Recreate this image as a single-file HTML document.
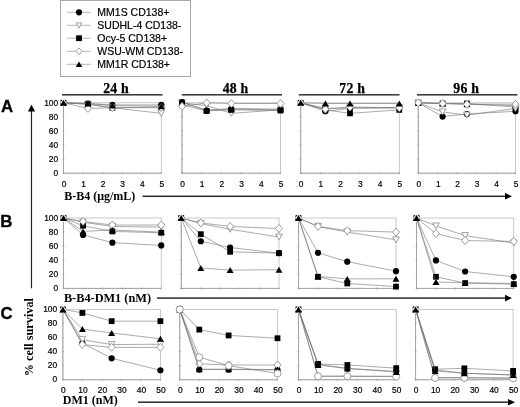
<!DOCTYPE html>
<html lang="en">
<head>
<meta charset="utf-8">
<title>Cell survival figure</title>
<style>
html,body{margin:0;padding:0;background:#fff;}
body{width:520px;height:407px;overflow:hidden;}
svg{display:block;}
</style>
</head>
<body>
<svg width="520" height="407" viewBox="0 0 520 407">
<rect width="520" height="407" fill="#fff"/>
<rect x="60.5" y="0.5" width="130" height="76" fill="#fff" stroke="#a8a8a8" stroke-width="1"/>
<line x1="66.8" y1="12.3" x2="90.8" y2="12.3" stroke="#999" stroke-width="0.7"/>
<circle cx="79" cy="12.3" r="3.1" fill="#000"/>
<text x="97.3" y="16.05" font-family="'Liberation Sans', Arial, Helvetica, sans-serif" font-size="10.5" fill="#000" stroke="#000" stroke-width="0.2">MM1S CD138+</text>
<line x1="66.8" y1="25.3" x2="90.8" y2="25.3" stroke="#999" stroke-width="0.7"/>
<polygon points="76.3,22.9 81.7,22.9 79,28.1" fill="#fff" stroke="#888" stroke-width="0.8"/>
<text x="97.3" y="29.05" font-family="'Liberation Sans', Arial, Helvetica, sans-serif" font-size="10.5" fill="#000" stroke="#000" stroke-width="0.2">SUDHL-4 CD138-</text>
<line x1="66.8" y1="38.2" x2="90.8" y2="38.2" stroke="#999" stroke-width="0.7"/>
<rect x="76.1" y="35.3" width="5.8" height="5.8" fill="#000"/>
<text x="97.3" y="41.95" font-family="'Liberation Sans', Arial, Helvetica, sans-serif" font-size="10.5" fill="#000" stroke="#000" stroke-width="0.2">Ocy-5 CD138+</text>
<line x1="66.8" y1="51.3" x2="90.8" y2="51.3" stroke="#999" stroke-width="0.7"/>
<polygon points="79,47.9 82,51.3 79,54.7 76,51.3" fill="#fff" stroke="#888" stroke-width="0.8"/>
<text x="97.3" y="55.05" font-family="'Liberation Sans', Arial, Helvetica, sans-serif" font-size="10.5" fill="#000" stroke="#000" stroke-width="0.2">WSU-WM CD138-</text>
<line x1="66.8" y1="64.3" x2="90.8" y2="64.3" stroke="#999" stroke-width="0.7"/>
<polygon points="75.7,67 82.3,67 79,61.6" fill="#000"/>
<text x="97.3" y="68.05" font-family="'Liberation Sans', Arial, Helvetica, sans-serif" font-size="10.5" fill="#000" stroke="#000" stroke-width="0.2">MM1R CD138+</text>
<rect x="62" y="94.05" width="100.5" height="1.5" fill="#333"/>
<text x="116" y="92.6" text-anchor="middle" font-family="'Liberation Serif', 'Times New Roman', Times, serif" font-weight="bold" font-size="13.8" letter-spacing="0.2" fill="#000" stroke="#000" stroke-width="0.25">24 h</text>
<rect x="181.75" y="94.05" width="100.25" height="1.5" fill="#333"/>
<text x="235.6" y="92.6" text-anchor="middle" font-family="'Liberation Serif', 'Times New Roman', Times, serif" font-weight="bold" font-size="13.8" letter-spacing="0.2" fill="#000" stroke="#000" stroke-width="0.25">48 h</text>
<rect x="298.75" y="94.05" width="100.75" height="1.5" fill="#333"/>
<text x="352.2" y="92.6" text-anchor="middle" font-family="'Liberation Serif', 'Times New Roman', Times, serif" font-weight="bold" font-size="13.8" letter-spacing="0.2" fill="#000" stroke="#000" stroke-width="0.25">72 h</text>
<rect x="417" y="94.05" width="100.5" height="1.5" fill="#333"/>
<text x="466.2" y="92.6" text-anchor="middle" font-family="'Liberation Serif', 'Times New Roman', Times, serif" font-weight="bold" font-size="13.8" letter-spacing="0.2" fill="#000" stroke="#000" stroke-width="0.25">96 h</text>
<text x="0.9" y="111.9" font-family="'Liberation Sans', Arial, Helvetica, sans-serif" font-weight="bold" font-size="16.8" fill="#000" stroke="#000" stroke-width="0.3">A</text>
<text x="0.2" y="226.9" font-family="'Liberation Sans', Arial, Helvetica, sans-serif" font-weight="bold" font-size="16.8" fill="#000" stroke="#000" stroke-width="0.3">B</text>
<text x="0.6" y="318.9" font-family="'Liberation Sans', Arial, Helvetica, sans-serif" font-weight="bold" font-size="16.8" fill="#000" stroke="#000" stroke-width="0.3">C</text>
<line x1="31.5" y1="110" x2="31.5" y2="288.3" stroke="#222" stroke-width="1.2"/>
<polygon points="31.5,104.8 35.1,111.6 27.9,111.6" fill="#000"/>
<text transform="translate(33.1,376.3) rotate(-90)" font-family="'Liberation Serif', 'Times New Roman', Times, serif" font-weight="bold" font-size="12.25" fill="#000">% cell survival</text>
<text x="64.2" y="200.2" font-family="'Liberation Serif', 'Times New Roman', Times, serif" font-weight="bold" font-size="12" fill="#000">B-B4 (μg/mL)</text>
<rect x="142.5" y="195.55" width="363.5" height="1.5" fill="#2a2a2a"/>
<polygon points="512,196.3 505,193 505,199.6" fill="#000"/>
<text x="63.9" y="302.2" font-family="'Liberation Serif', 'Times New Roman', Times, serif" font-weight="bold" font-size="12.3" fill="#000">B-B4-DM1 (nM)</text>
<rect x="157" y="297.35" width="349" height="1.5" fill="#2a2a2a"/>
<polygon points="512,298.1 505,294.8 505,301.4" fill="#000"/>
<text x="62.8" y="403.8" font-family="'Liberation Serif', 'Times New Roman', Times, serif" font-weight="bold" font-size="12" fill="#000">DM1 (nM)</text>
<rect x="138" y="401.45" width="371" height="1.5" fill="#2a2a2a"/>
<polygon points="515,402.2 508,398.9 508,405.5" fill="#000"/>
<rect x="63.5" y="102.8" width="97.8" height="70.4" fill="none" stroke="#bcbcbc" stroke-width="0.8"/>
<path d="M63.5 102.8V173.2H161.3" fill="none" stroke="#9a9a9a" stroke-width="0.8"/>
<path d="M62.5 173.2h2M63.5 172.2v2M62.5 159.12h2M83.06 172.2v2M62.5 145.04h2M102.62 172.2v2M62.5 130.96h2M122.18 172.2v2M62.5 116.88h2M141.74 172.2v2M62.5 102.8h2M161.3 172.2v2" stroke="#9a9a9a" stroke-width="0.7" fill="none"/>
<text x="64" y="186.5" text-anchor="middle" font-family="'Liberation Sans', Arial, Helvetica, sans-serif" font-size="8.4" fill="#000" stroke="#000" stroke-width="0.2">0</text>
<text x="83.56" y="186.5" text-anchor="middle" font-family="'Liberation Sans', Arial, Helvetica, sans-serif" font-size="8.4" fill="#000" stroke="#000" stroke-width="0.2">1</text>
<text x="103.12" y="186.5" text-anchor="middle" font-family="'Liberation Sans', Arial, Helvetica, sans-serif" font-size="8.4" fill="#000" stroke="#000" stroke-width="0.2">2</text>
<text x="122.68" y="186.5" text-anchor="middle" font-family="'Liberation Sans', Arial, Helvetica, sans-serif" font-size="8.4" fill="#000" stroke="#000" stroke-width="0.2">3</text>
<text x="142.24" y="186.5" text-anchor="middle" font-family="'Liberation Sans', Arial, Helvetica, sans-serif" font-size="8.4" fill="#000" stroke="#000" stroke-width="0.2">4</text>
<text x="161.8" y="186.5" text-anchor="middle" font-family="'Liberation Sans', Arial, Helvetica, sans-serif" font-size="8.4" fill="#000" stroke="#000" stroke-width="0.2">5</text>
<text x="58.2" y="176.2" text-anchor="end" font-family="'Liberation Sans', Arial, Helvetica, sans-serif" font-size="8.4" fill="#000" stroke="#000" stroke-width="0.2">0</text>
<text x="58.2" y="162.12" text-anchor="end" font-family="'Liberation Sans', Arial, Helvetica, sans-serif" font-size="8.4" fill="#000" stroke="#000" stroke-width="0.2">20</text>
<text x="58.2" y="148.04" text-anchor="end" font-family="'Liberation Sans', Arial, Helvetica, sans-serif" font-size="8.4" fill="#000" stroke="#000" stroke-width="0.2">40</text>
<text x="58.2" y="133.96" text-anchor="end" font-family="'Liberation Sans', Arial, Helvetica, sans-serif" font-size="8.4" fill="#000" stroke="#000" stroke-width="0.2">60</text>
<text x="58.2" y="119.88" text-anchor="end" font-family="'Liberation Sans', Arial, Helvetica, sans-serif" font-size="8.4" fill="#000" stroke="#000" stroke-width="0.2">80</text>
<text x="58.2" y="105.8" text-anchor="end" font-family="'Liberation Sans', Arial, Helvetica, sans-serif" font-size="8.4" fill="#000" stroke="#000" stroke-width="0.2">100</text>
<polyline points="63.5,102.8 87.95,103.5 112.4,104.91 161.3,104.91" fill="none" stroke="#727272" stroke-width="0.6"/>
<circle cx="63.5" cy="102.8" r="3.1" fill="#000"/>
<circle cx="87.95" cy="103.5" r="3.1" fill="#000"/>
<circle cx="112.4" cy="104.91" r="3.1" fill="#000"/>
<circle cx="161.3" cy="104.91" r="3.1" fill="#000"/>
<polyline points="63.5,102.8 87.95,104.21 112.4,107.73 161.3,113.36" fill="none" stroke="#727272" stroke-width="0.6"/>
<polygon points="60.2,99.8 66.8,99.8 63.5,105.8" fill="#fff" stroke="none" stroke-width="0.8"/>
<polygon points="84.65,101.21 91.25,101.21 87.95,107.21" fill="#fff" stroke="#888" stroke-width="0.8"/>
<polygon points="109.1,104.73 115.7,104.73 112.4,110.73" fill="#fff" stroke="#888" stroke-width="0.8"/>
<polygon points="158,110.36 164.6,110.36 161.3,116.36" fill="#fff" stroke="#888" stroke-width="0.8"/>
<polyline points="63.5,102.8 87.95,104.21 112.4,107.73 161.3,107.02" fill="none" stroke="#727272" stroke-width="0.6"/>
<rect x="60.6" y="99.9" width="5.8" height="5.8" fill="#000"/>
<rect x="85.05" y="101.31" width="5.8" height="5.8" fill="#000"/>
<rect x="109.5" y="104.83" width="5.8" height="5.8" fill="#000"/>
<rect x="158.4" y="104.12" width="5.8" height="5.8" fill="#000"/>
<polyline points="63.5,102.8 87.95,108.43 112.4,107.73 161.3,107.73" fill="none" stroke="#727272" stroke-width="0.6"/>
<polygon points="63.5,98.8 67,102.8 63.5,106.8 60,102.8" fill="#fff" stroke="none" stroke-width="0.8"/>
<polygon points="87.95,104.43 91.45,108.43 87.95,112.43 84.45,108.43" fill="#fff" stroke="#888" stroke-width="0.8"/>
<polygon points="112.4,103.73 115.9,107.73 112.4,111.73 108.9,107.73" fill="#fff" stroke="#888" stroke-width="0.8"/>
<polygon points="161.3,103.73 164.8,107.73 161.3,111.73 157.8,107.73" fill="#fff" stroke="#888" stroke-width="0.8"/>
<polyline points="63.5,102.8 87.95,103.5 112.4,105.62 161.3,106.32" fill="none" stroke="#727272" stroke-width="0.6"/>
<polygon points="60,105.8 67,105.8 63.5,99.8" fill="#000"/>
<polygon points="84.45,106.5 91.45,106.5 87.95,100.5" fill="#000"/>
<polygon points="108.9,108.62 115.9,108.62 112.4,102.62" fill="#000"/>
<polygon points="157.8,109.32 164.8,109.32 161.3,103.32" fill="#000"/>
<rect x="182" y="102.8" width="98.5" height="70.4" fill="none" stroke="#bcbcbc" stroke-width="0.8"/>
<path d="M182 102.8V173.2H280.5" fill="none" stroke="#9a9a9a" stroke-width="0.8"/>
<path d="M181 173.2h2M182 172.2v2M181 159.12h2M201.7 172.2v2M181 145.04h2M221.4 172.2v2M181 130.96h2M241.1 172.2v2M181 116.88h2M260.8 172.2v2M181 102.8h2M280.5 172.2v2" stroke="#9a9a9a" stroke-width="0.7" fill="none"/>
<text x="182.5" y="186.5" text-anchor="middle" font-family="'Liberation Sans', Arial, Helvetica, sans-serif" font-size="8.4" fill="#000" stroke="#000" stroke-width="0.2">0</text>
<text x="202.2" y="186.5" text-anchor="middle" font-family="'Liberation Sans', Arial, Helvetica, sans-serif" font-size="8.4" fill="#000" stroke="#000" stroke-width="0.2">1</text>
<text x="221.9" y="186.5" text-anchor="middle" font-family="'Liberation Sans', Arial, Helvetica, sans-serif" font-size="8.4" fill="#000" stroke="#000" stroke-width="0.2">2</text>
<text x="241.6" y="186.5" text-anchor="middle" font-family="'Liberation Sans', Arial, Helvetica, sans-serif" font-size="8.4" fill="#000" stroke="#000" stroke-width="0.2">3</text>
<text x="261.3" y="186.5" text-anchor="middle" font-family="'Liberation Sans', Arial, Helvetica, sans-serif" font-size="8.4" fill="#000" stroke="#000" stroke-width="0.2">4</text>
<text x="281" y="186.5" text-anchor="middle" font-family="'Liberation Sans', Arial, Helvetica, sans-serif" font-size="8.4" fill="#000" stroke="#000" stroke-width="0.2">5</text>
<polyline points="182,102.8 206.62,105.62 231.25,113.36 280.5,109.84" fill="none" stroke="#727272" stroke-width="0.6"/>
<polygon points="178.7,99.8 185.3,99.8 182,105.8" fill="#fff" stroke="#888" stroke-width="0.8"/>
<polygon points="203.32,102.62 209.93,102.62 206.62,108.62" fill="#fff" stroke="#888" stroke-width="0.8"/>
<polygon points="227.95,110.36 234.55,110.36 231.25,116.36" fill="#fff" stroke="#888" stroke-width="0.8"/>
<polygon points="277.2,106.84 283.8,106.84 280.5,112.84" fill="#fff" stroke="#888" stroke-width="0.8"/>
<polyline points="182,102.8 206.62,110.19 231.25,108.43 280.5,109.14" fill="none" stroke="#727272" stroke-width="0.6"/>
<polygon points="178.5,105.8 185.5,105.8 182,99.8" fill="#000"/>
<polygon points="203.12,113.19 210.12,113.19 206.62,107.19" fill="#000"/>
<polygon points="227.75,111.43 234.75,111.43 231.25,105.43" fill="#000"/>
<polygon points="277,112.14 284,112.14 280.5,106.14" fill="#000"/>
<polyline points="182,102.1 206.62,110.54 231.25,109.14 280.5,109.84" fill="none" stroke="#727272" stroke-width="0.6"/>
<circle cx="182" cy="102.1" r="3.1" fill="#000"/>
<circle cx="206.62" cy="110.54" r="3.1" fill="#000"/>
<circle cx="231.25" cy="109.14" r="3.1" fill="#000"/>
<circle cx="280.5" cy="109.84" r="3.1" fill="#000"/>
<polyline points="182,104.91 206.62,110.9 231.25,109.84 280.5,110.54" fill="none" stroke="#727272" stroke-width="0.6"/>
<rect x="179.1" y="102.01" width="5.8" height="5.8" fill="#000"/>
<rect x="203.72" y="108" width="5.8" height="5.8" fill="#000"/>
<rect x="228.35" y="106.94" width="5.8" height="5.8" fill="#000"/>
<rect x="277.6" y="107.64" width="5.8" height="5.8" fill="#000"/>
<polyline points="182,106.32 206.62,102.8 231.25,103.5 280.5,103.5" fill="none" stroke="#727272" stroke-width="0.6"/>
<polygon points="182,102.32 185.5,106.32 182,110.32 178.5,106.32" fill="#fff" stroke="#888" stroke-width="0.8"/>
<polygon points="206.62,98.8 210.12,102.8 206.62,106.8 203.12,102.8" fill="#fff" stroke="#888" stroke-width="0.8"/>
<polygon points="231.25,99.5 234.75,103.5 231.25,107.5 227.75,103.5" fill="#fff" stroke="#888" stroke-width="0.8"/>
<polygon points="280.5,99.5 284,103.5 280.5,107.5 277,103.5" fill="#fff" stroke="#888" stroke-width="0.8"/>
<rect x="300.7" y="102.8" width="98.6" height="70.4" fill="none" stroke="#bcbcbc" stroke-width="0.8"/>
<path d="M300.7 102.8V173.2H399.3" fill="none" stroke="#9a9a9a" stroke-width="0.8"/>
<path d="M299.7 173.2h2M300.7 172.2v2M299.7 159.12h2M320.42 172.2v2M299.7 145.04h2M340.14 172.2v2M299.7 130.96h2M359.86 172.2v2M299.7 116.88h2M379.58 172.2v2M299.7 102.8h2M399.3 172.2v2" stroke="#9a9a9a" stroke-width="0.7" fill="none"/>
<text x="301.2" y="186.5" text-anchor="middle" font-family="'Liberation Sans', Arial, Helvetica, sans-serif" font-size="8.4" fill="#000" stroke="#000" stroke-width="0.2">0</text>
<text x="320.92" y="186.5" text-anchor="middle" font-family="'Liberation Sans', Arial, Helvetica, sans-serif" font-size="8.4" fill="#000" stroke="#000" stroke-width="0.2">1</text>
<text x="340.64" y="186.5" text-anchor="middle" font-family="'Liberation Sans', Arial, Helvetica, sans-serif" font-size="8.4" fill="#000" stroke="#000" stroke-width="0.2">2</text>
<text x="360.36" y="186.5" text-anchor="middle" font-family="'Liberation Sans', Arial, Helvetica, sans-serif" font-size="8.4" fill="#000" stroke="#000" stroke-width="0.2">3</text>
<text x="380.08" y="186.5" text-anchor="middle" font-family="'Liberation Sans', Arial, Helvetica, sans-serif" font-size="8.4" fill="#000" stroke="#000" stroke-width="0.2">4</text>
<text x="399.8" y="186.5" text-anchor="middle" font-family="'Liberation Sans', Arial, Helvetica, sans-serif" font-size="8.4" fill="#000" stroke="#000" stroke-width="0.2">5</text>
<polyline points="300.7,102.8 325.35,111.25 350,108.43 399.3,107.73" fill="none" stroke="#727272" stroke-width="0.6"/>
<circle cx="300.7" cy="102.8" r="3.1" fill="#000"/>
<circle cx="325.35" cy="111.25" r="3.1" fill="#000"/>
<circle cx="350" cy="108.43" r="3.1" fill="#000"/>
<circle cx="399.3" cy="107.73" r="3.1" fill="#000"/>
<polyline points="300.7,102.8 325.35,108.43 350,107.73 399.3,107.73" fill="none" stroke="#727272" stroke-width="0.6"/>
<polygon points="297.4,99.8 304,99.8 300.7,105.8" fill="#fff" stroke="none" stroke-width="0.8"/>
<polygon points="322.05,105.43 328.65,105.43 325.35,111.43" fill="#fff" stroke="#888" stroke-width="0.8"/>
<polygon points="346.7,104.73 353.3,104.73 350,110.73" fill="#fff" stroke="#888" stroke-width="0.8"/>
<polygon points="396,104.73 402.6,104.73 399.3,110.73" fill="#fff" stroke="#888" stroke-width="0.8"/>
<polyline points="300.7,102.8 325.35,109.84 350,113.36 399.3,109.84" fill="none" stroke="#727272" stroke-width="0.6"/>
<rect x="297.8" y="99.9" width="5.8" height="5.8" fill="#000"/>
<rect x="322.45" y="106.94" width="5.8" height="5.8" fill="#000"/>
<rect x="347.1" y="110.46" width="5.8" height="5.8" fill="#000"/>
<rect x="396.4" y="106.94" width="5.8" height="5.8" fill="#000"/>
<polyline points="300.7,102.8 325.35,109.14 350,107.02 399.3,107.73" fill="none" stroke="#727272" stroke-width="0.6"/>
<polygon points="300.7,98.8 304.2,102.8 300.7,106.8 297.2,102.8" fill="#fff" stroke="none" stroke-width="0.8"/>
<polygon points="325.35,105.14 328.85,109.14 325.35,113.14 321.85,109.14" fill="#fff" stroke="#888" stroke-width="0.8"/>
<polygon points="350,103.02 353.5,107.02 350,111.02 346.5,107.02" fill="#fff" stroke="#888" stroke-width="0.8"/>
<polygon points="399.3,103.73 402.8,107.73 399.3,111.73 395.8,107.73" fill="#fff" stroke="#888" stroke-width="0.8"/>
<polyline points="300.7,102.8 325.35,103.5 350,103.5 399.3,103.5" fill="none" stroke="#727272" stroke-width="0.6"/>
<polygon points="297.2,105.8 304.2,105.8 300.7,99.8" fill="#000"/>
<polygon points="321.85,106.5 328.85,106.5 325.35,100.5" fill="#000"/>
<polygon points="346.5,106.5 353.5,106.5 350,100.5" fill="#000"/>
<polygon points="395.8,106.5 402.8,106.5 399.3,100.5" fill="#000"/>
<rect x="418.3" y="102.8" width="97.2" height="70.4" fill="none" stroke="#bcbcbc" stroke-width="0.8"/>
<path d="M418.3 102.8V173.2H515.5" fill="none" stroke="#9a9a9a" stroke-width="0.8"/>
<path d="M417.3 173.2h2M418.3 172.2v2M417.3 159.12h2M437.74 172.2v2M417.3 145.04h2M457.18 172.2v2M417.3 130.96h2M476.62 172.2v2M417.3 116.88h2M496.06 172.2v2M417.3 102.8h2M515.5 172.2v2" stroke="#9a9a9a" stroke-width="0.7" fill="none"/>
<text x="418.8" y="186.5" text-anchor="middle" font-family="'Liberation Sans', Arial, Helvetica, sans-serif" font-size="8.4" fill="#000" stroke="#000" stroke-width="0.2">0</text>
<text x="438.24" y="186.5" text-anchor="middle" font-family="'Liberation Sans', Arial, Helvetica, sans-serif" font-size="8.4" fill="#000" stroke="#000" stroke-width="0.2">1</text>
<text x="457.68" y="186.5" text-anchor="middle" font-family="'Liberation Sans', Arial, Helvetica, sans-serif" font-size="8.4" fill="#000" stroke="#000" stroke-width="0.2">2</text>
<text x="477.12" y="186.5" text-anchor="middle" font-family="'Liberation Sans', Arial, Helvetica, sans-serif" font-size="8.4" fill="#000" stroke="#000" stroke-width="0.2">3</text>
<text x="496.56" y="186.5" text-anchor="middle" font-family="'Liberation Sans', Arial, Helvetica, sans-serif" font-size="8.4" fill="#000" stroke="#000" stroke-width="0.2">4</text>
<text x="516" y="186.5" text-anchor="middle" font-family="'Liberation Sans', Arial, Helvetica, sans-serif" font-size="8.4" fill="#000" stroke="#000" stroke-width="0.2">5</text>
<polyline points="418.3,102.8 442.6,103.5 466.9,104.21 515.5,105.62" fill="none" stroke="#727272" stroke-width="0.6"/>
<polygon points="414.8,105.8 421.8,105.8 418.3,99.8" fill="#000"/>
<polygon points="439.1,106.5 446.1,106.5 442.6,100.5" fill="#000"/>
<polygon points="463.4,107.21 470.4,107.21 466.9,101.21" fill="#000"/>
<polygon points="512,108.62 519,108.62 515.5,102.62" fill="#000"/>
<polyline points="418.3,102.8 442.6,116.53 466.9,114.06 515.5,111.25" fill="none" stroke="#727272" stroke-width="0.6"/>
<circle cx="418.3" cy="102.8" r="3.1" fill="#000"/>
<circle cx="442.6" cy="116.53" r="3.1" fill="#000"/>
<circle cx="466.9" cy="114.06" r="3.1" fill="#000"/>
<circle cx="515.5" cy="111.25" r="3.1" fill="#000"/>
<polyline points="418.3,102.8 442.6,103.5 466.9,103.5 515.5,107.02" fill="none" stroke="#727272" stroke-width="0.6"/>
<rect x="415.4" y="99.9" width="5.8" height="5.8" fill="#000"/>
<rect x="439.7" y="100.6" width="5.8" height="5.8" fill="#000"/>
<rect x="464" y="100.6" width="5.8" height="5.8" fill="#000"/>
<rect x="512.6" y="104.12" width="5.8" height="5.8" fill="#000"/>
<polyline points="418.3,102.8 442.6,111.95 466.9,115.12 515.5,108.43" fill="none" stroke="#727272" stroke-width="0.6"/>
<polygon points="415,99.8 421.6,99.8 418.3,105.8" fill="#fff" stroke="#888" stroke-width="0.8"/>
<polygon points="439.3,108.95 445.9,108.95 442.6,114.95" fill="#fff" stroke="#888" stroke-width="0.8"/>
<polygon points="463.6,112.12 470.2,112.12 466.9,118.12" fill="#fff" stroke="#888" stroke-width="0.8"/>
<polygon points="512.2,105.43 518.8,105.43 515.5,111.43" fill="#fff" stroke="#888" stroke-width="0.8"/>
<polyline points="418.3,102.8 442.6,103.5 466.9,104.21 515.5,104.21" fill="none" stroke="#727272" stroke-width="0.6"/>
<polygon points="418.3,98.8 421.8,102.8 418.3,106.8 414.8,102.8" fill="#fff" stroke="#888" stroke-width="0.8"/>
<polygon points="442.6,99.5 446.1,103.5 442.6,107.5 439.1,103.5" fill="#fff" stroke="#888" stroke-width="0.8"/>
<polygon points="466.9,100.21 470.4,104.21 466.9,108.21 463.4,104.21" fill="#fff" stroke="#888" stroke-width="0.8"/>
<polygon points="515.5,100.21 519,104.21 515.5,108.21 512,104.21" fill="#fff" stroke="#888" stroke-width="0.8"/>
<rect x="63.5" y="218" width="97.75" height="70.4" fill="none" stroke="#bcbcbc" stroke-width="0.8"/>
<path d="M63.5 218V288.4H161.25" fill="none" stroke="#9a9a9a" stroke-width="0.8"/>
<path d="M62.5 288.4h2M63.5 287.4v2M62.5 274.32h2M83.05 287.4v2M62.5 260.24h2M102.6 287.4v2M62.5 246.16h2M122.15 287.4v2M62.5 232.08h2M141.7 287.4v2M62.5 218h2M161.25 287.4v2" stroke="#9a9a9a" stroke-width="0.7" fill="none"/>
<text x="58.2" y="291.4" text-anchor="end" font-family="'Liberation Sans', Arial, Helvetica, sans-serif" font-size="8.4" fill="#000" stroke="#000" stroke-width="0.2">0</text>
<text x="58.2" y="277.32" text-anchor="end" font-family="'Liberation Sans', Arial, Helvetica, sans-serif" font-size="8.4" fill="#000" stroke="#000" stroke-width="0.2">20</text>
<text x="58.2" y="263.24" text-anchor="end" font-family="'Liberation Sans', Arial, Helvetica, sans-serif" font-size="8.4" fill="#000" stroke="#000" stroke-width="0.2">40</text>
<text x="58.2" y="249.16" text-anchor="end" font-family="'Liberation Sans', Arial, Helvetica, sans-serif" font-size="8.4" fill="#000" stroke="#000" stroke-width="0.2">60</text>
<text x="58.2" y="235.08" text-anchor="end" font-family="'Liberation Sans', Arial, Helvetica, sans-serif" font-size="8.4" fill="#000" stroke="#000" stroke-width="0.2">80</text>
<text x="58.2" y="221" text-anchor="end" font-family="'Liberation Sans', Arial, Helvetica, sans-serif" font-size="8.4" fill="#000" stroke="#000" stroke-width="0.2">100</text>
<polyline points="63.5,218 83.05,234.9 112.38,242.64 161.25,245.46" fill="none" stroke="#727272" stroke-width="0.6"/>
<circle cx="63.5" cy="218" r="3.1" fill="#000"/>
<circle cx="83.05" cy="234.9" r="3.1" fill="#000"/>
<circle cx="112.38" cy="242.64" r="3.1" fill="#000"/>
<circle cx="161.25" cy="245.46" r="3.1" fill="#000"/>
<polyline points="63.5,218 83.05,222.22 112.38,226.45 161.25,227.15" fill="none" stroke="#727272" stroke-width="0.6"/>
<polygon points="60.2,215 66.8,215 63.5,221" fill="#fff" stroke="none" stroke-width="0.8"/>
<polygon points="79.75,219.22 86.35,219.22 83.05,225.22" fill="#fff" stroke="#888" stroke-width="0.8"/>
<polygon points="109.08,223.45 115.67,223.45 112.38,229.45" fill="#fff" stroke="#888" stroke-width="0.8"/>
<polygon points="157.95,224.15 164.55,224.15 161.25,230.15" fill="#fff" stroke="#888" stroke-width="0.8"/>
<polyline points="63.5,218 83.05,225.74 112.38,231.38 161.25,232.78" fill="none" stroke="#727272" stroke-width="0.6"/>
<rect x="60.6" y="215.1" width="5.8" height="5.8" fill="#000"/>
<rect x="80.15" y="222.84" width="5.8" height="5.8" fill="#000"/>
<rect x="109.47" y="228.48" width="5.8" height="5.8" fill="#000"/>
<rect x="158.35" y="229.88" width="5.8" height="5.8" fill="#000"/>
<polyline points="63.5,218 83.05,221.52 112.38,225.04 161.25,225.04" fill="none" stroke="#727272" stroke-width="0.6"/>
<polygon points="63.5,214 67,218 63.5,222 60,218" fill="#fff" stroke="none" stroke-width="0.8"/>
<polygon points="83.05,217.52 86.55,221.52 83.05,225.52 79.55,221.52" fill="#fff" stroke="#888" stroke-width="0.8"/>
<polygon points="112.38,221.04 115.88,225.04 112.38,229.04 108.88,225.04" fill="#fff" stroke="#888" stroke-width="0.8"/>
<polygon points="161.25,221.04 164.75,225.04 161.25,229.04 157.75,225.04" fill="#fff" stroke="#888" stroke-width="0.8"/>
<polyline points="63.5,218 83.05,231.38 112.38,229.97 161.25,232.08" fill="none" stroke="#727272" stroke-width="0.6"/>
<polygon points="60,221 67,221 63.5,215" fill="#000"/>
<polygon points="79.55,234.38 86.55,234.38 83.05,228.38" fill="#000"/>
<polygon points="108.88,232.97 115.88,232.97 112.38,226.97" fill="#000"/>
<polygon points="157.75,235.08 164.75,235.08 161.25,229.08" fill="#000"/>
<rect x="181.25" y="218" width="97.75" height="70.4" fill="none" stroke="#bcbcbc" stroke-width="0.8"/>
<path d="M181.25 218V288.4H279" fill="none" stroke="#9a9a9a" stroke-width="0.8"/>
<path d="M180.25 288.4h2M181.25 287.4v2M180.25 274.32h2M200.8 287.4v2M180.25 260.24h2M220.35 287.4v2M180.25 246.16h2M239.9 287.4v2M180.25 232.08h2M259.45 287.4v2M180.25 218h2M279 287.4v2" stroke="#9a9a9a" stroke-width="0.7" fill="none"/>
<polyline points="181.25,218 200.8,241.23 230.12,247.57 279,253.2" fill="none" stroke="#727272" stroke-width="0.6"/>
<circle cx="181.25" cy="218" r="3.1" fill="#000"/>
<circle cx="200.8" cy="241.23" r="3.1" fill="#000"/>
<circle cx="230.12" cy="247.57" r="3.1" fill="#000"/>
<circle cx="279" cy="253.2" r="3.1" fill="#000"/>
<polyline points="181.25,218 200.8,223.63 230.12,229.26 279,237.01" fill="none" stroke="#727272" stroke-width="0.6"/>
<polygon points="177.95,215 184.55,215 181.25,221" fill="#fff" stroke="none" stroke-width="0.8"/>
<polygon points="197.5,220.63 204.1,220.63 200.8,226.63" fill="#fff" stroke="#888" stroke-width="0.8"/>
<polygon points="226.82,226.26 233.43,226.26 230.12,232.26" fill="#fff" stroke="#888" stroke-width="0.8"/>
<polygon points="275.7,234.01 282.3,234.01 279,240.01" fill="#fff" stroke="#888" stroke-width="0.8"/>
<polyline points="181.25,218 200.8,234.19 230.12,251.79 279,253.2" fill="none" stroke="#727272" stroke-width="0.6"/>
<rect x="178.35" y="215.1" width="5.8" height="5.8" fill="#000"/>
<rect x="197.9" y="231.29" width="5.8" height="5.8" fill="#000"/>
<rect x="227.22" y="248.89" width="5.8" height="5.8" fill="#000"/>
<rect x="276.1" y="250.3" width="5.8" height="5.8" fill="#000"/>
<polyline points="181.25,218 200.8,222.93 230.12,226.45 279,228.56" fill="none" stroke="#727272" stroke-width="0.6"/>
<polygon points="181.25,214 184.75,218 181.25,222 177.75,218" fill="#fff" stroke="none" stroke-width="0.8"/>
<polygon points="200.8,218.93 204.3,222.93 200.8,226.93 197.3,222.93" fill="#fff" stroke="#888" stroke-width="0.8"/>
<polygon points="230.12,222.45 233.62,226.45 230.12,230.45 226.62,226.45" fill="#fff" stroke="#888" stroke-width="0.8"/>
<polygon points="279,224.56 282.5,228.56 279,232.56 275.5,228.56" fill="#fff" stroke="#888" stroke-width="0.8"/>
<polyline points="181.25,218 200.8,267.98 230.12,270.1 279,269.74" fill="none" stroke="#727272" stroke-width="0.6"/>
<polygon points="177.75,221 184.75,221 181.25,215" fill="#000"/>
<polygon points="197.3,270.98 204.3,270.98 200.8,264.98" fill="#000"/>
<polygon points="226.62,273.1 233.62,273.1 230.12,267.1" fill="#000"/>
<polygon points="275.5,272.74 282.5,272.74 279,266.74" fill="#000"/>
<rect x="298.5" y="218" width="97.5" height="70.4" fill="none" stroke="#bcbcbc" stroke-width="0.8"/>
<path d="M298.5 218V288.4H396" fill="none" stroke="#9a9a9a" stroke-width="0.8"/>
<path d="M297.5 288.4h2M298.5 287.4v2M297.5 274.32h2M318 287.4v2M297.5 260.24h2M337.5 287.4v2M297.5 246.16h2M357 287.4v2M297.5 232.08h2M376.5 287.4v2M297.5 218h2M396 287.4v2" stroke="#9a9a9a" stroke-width="0.7" fill="none"/>
<polyline points="298.5,218 318,252.85 347.25,261.65 396,271.15" fill="none" stroke="#727272" stroke-width="0.6"/>
<circle cx="298.5" cy="218" r="3.1" fill="#000"/>
<circle cx="318" cy="252.85" r="3.1" fill="#000"/>
<circle cx="347.25" cy="261.65" r="3.1" fill="#000"/>
<circle cx="396" cy="271.15" r="3.1" fill="#000"/>
<polyline points="298.5,218 318,226.45 347.25,232.08 396,239.82" fill="none" stroke="#727272" stroke-width="0.6"/>
<polygon points="295.2,215 301.8,215 298.5,221" fill="#fff" stroke="none" stroke-width="0.8"/>
<polygon points="314.7,223.45 321.3,223.45 318,229.45" fill="#fff" stroke="#888" stroke-width="0.8"/>
<polygon points="343.95,229.08 350.55,229.08 347.25,235.08" fill="#fff" stroke="#888" stroke-width="0.8"/>
<polygon points="392.7,236.82 399.3,236.82 396,242.82" fill="#fff" stroke="#888" stroke-width="0.8"/>
<polyline points="298.5,218 318,276.78 347.25,283.47 396,286.64" fill="none" stroke="#727272" stroke-width="0.6"/>
<rect x="295.6" y="215.1" width="5.8" height="5.8" fill="#000"/>
<rect x="315.1" y="273.88" width="5.8" height="5.8" fill="#000"/>
<rect x="344.35" y="280.57" width="5.8" height="5.8" fill="#000"/>
<rect x="393.1" y="283.74" width="5.8" height="5.8" fill="#000"/>
<polyline points="298.5,218 318,226.45 347.25,230.67 396,232.08" fill="none" stroke="#727272" stroke-width="0.6"/>
<polygon points="298.5,214 302,218 298.5,222 295,218" fill="#fff" stroke="none" stroke-width="0.8"/>
<polygon points="318,222.45 321.5,226.45 318,230.45 314.5,226.45" fill="#fff" stroke="#888" stroke-width="0.8"/>
<polygon points="347.25,226.67 350.75,230.67 347.25,234.67 343.75,230.67" fill="#fff" stroke="#888" stroke-width="0.8"/>
<polygon points="396,228.08 399.5,232.08 396,236.08 392.5,232.08" fill="#fff" stroke="#888" stroke-width="0.8"/>
<polyline points="298.5,218 318,276.43 347.25,278.9 396,278.76" fill="none" stroke="#727272" stroke-width="0.6"/>
<polygon points="295,221 302,221 298.5,215" fill="#000"/>
<polygon points="314.5,279.43 321.5,279.43 318,273.43" fill="#000"/>
<polygon points="343.75,281.9 350.75,281.9 347.25,275.9" fill="#000"/>
<polygon points="392.5,281.76 399.5,281.76 396,275.76" fill="#000"/>
<rect x="416.5" y="218" width="97.25" height="70.4" fill="none" stroke="#bcbcbc" stroke-width="0.8"/>
<path d="M416.5 218V288.4H513.75" fill="none" stroke="#9a9a9a" stroke-width="0.8"/>
<path d="M415.5 288.4h2M416.5 287.4v2M415.5 274.32h2M435.95 287.4v2M415.5 260.24h2M455.4 287.4v2M415.5 246.16h2M474.85 287.4v2M415.5 232.08h2M494.3 287.4v2M415.5 218h2M513.75 287.4v2" stroke="#9a9a9a" stroke-width="0.7" fill="none"/>
<polyline points="416.5,218 435.95,260.45 465.12,271.5 513.75,276.78" fill="none" stroke="#727272" stroke-width="0.6"/>
<circle cx="416.5" cy="218" r="3.1" fill="#000"/>
<circle cx="435.95" cy="260.45" r="3.1" fill="#000"/>
<circle cx="465.12" cy="271.5" r="3.1" fill="#000"/>
<circle cx="513.75" cy="276.78" r="3.1" fill="#000"/>
<polyline points="416.5,218 435.95,225.96 465.12,235.6 513.75,242.99" fill="none" stroke="#727272" stroke-width="0.6"/>
<polygon points="413.2,215 419.8,215 416.5,221" fill="#fff" stroke="none" stroke-width="0.8"/>
<polygon points="432.65,222.96 439.25,222.96 435.95,228.96" fill="#fff" stroke="#888" stroke-width="0.8"/>
<polygon points="461.82,232.6 468.43,232.6 465.12,238.6" fill="#fff" stroke="#888" stroke-width="0.8"/>
<polygon points="510.45,239.99 517.05,239.99 513.75,245.99" fill="#fff" stroke="#888" stroke-width="0.8"/>
<polyline points="416.5,218 435.95,276.78 465.12,283.12 513.75,284.18" fill="none" stroke="#727272" stroke-width="0.6"/>
<rect x="413.6" y="215.1" width="5.8" height="5.8" fill="#000"/>
<rect x="433.05" y="273.88" width="5.8" height="5.8" fill="#000"/>
<rect x="462.23" y="280.22" width="5.8" height="5.8" fill="#000"/>
<rect x="510.85" y="281.28" width="5.8" height="5.8" fill="#000"/>
<polyline points="416.5,218 435.95,233.49 465.12,240.53 513.75,241.44" fill="none" stroke="#727272" stroke-width="0.6"/>
<polygon points="416.5,214 420,218 416.5,222 413,218" fill="#fff" stroke="none" stroke-width="0.8"/>
<polygon points="435.95,229.49 439.45,233.49 435.95,237.49 432.45,233.49" fill="#fff" stroke="#888" stroke-width="0.8"/>
<polygon points="465.12,236.53 468.62,240.53 465.12,244.53 461.62,240.53" fill="#fff" stroke="#888" stroke-width="0.8"/>
<polygon points="513.75,237.44 517.25,241.44 513.75,245.44 510.25,241.44" fill="#fff" stroke="#888" stroke-width="0.8"/>
<polyline points="416.5,218 435.95,282.06 465.12,282.77 513.75,283.47" fill="none" stroke="#727272" stroke-width="0.6"/>
<polygon points="413,221 420,221 416.5,215" fill="#000"/>
<polygon points="432.45,285.06 439.45,285.06 435.95,279.06" fill="#000"/>
<polygon points="461.62,285.77 468.62,285.77 465.12,279.77" fill="#000"/>
<polygon points="510.25,286.47 517.25,286.47 513.75,280.47" fill="#000"/>
<rect x="62.9" y="309.4" width="97.5" height="70.35" fill="none" stroke="#bcbcbc" stroke-width="0.8"/>
<path d="M62.9 309.4V379.75H160.4" fill="none" stroke="#9a9a9a" stroke-width="0.8"/>
<path d="M61.9 379.75h2M62.9 378.75v2M61.9 365.68h2M82.4 378.75v2M61.9 351.61h2M101.9 378.75v2M61.9 337.54h2M121.4 378.75v2M61.9 323.47h2M140.9 378.75v2M61.9 309.4h2M160.4 378.75v2" stroke="#9a9a9a" stroke-width="0.7" fill="none"/>
<text x="63.4" y="393" text-anchor="middle" font-family="'Liberation Sans', Arial, Helvetica, sans-serif" font-size="8.4" fill="#000" stroke="#000" stroke-width="0.2">0</text>
<text x="82.9" y="393" text-anchor="middle" font-family="'Liberation Sans', Arial, Helvetica, sans-serif" font-size="8.4" fill="#000" stroke="#000" stroke-width="0.2">10</text>
<text x="102.4" y="393" text-anchor="middle" font-family="'Liberation Sans', Arial, Helvetica, sans-serif" font-size="8.4" fill="#000" stroke="#000" stroke-width="0.2">20</text>
<text x="121.9" y="393" text-anchor="middle" font-family="'Liberation Sans', Arial, Helvetica, sans-serif" font-size="8.4" fill="#000" stroke="#000" stroke-width="0.2">30</text>
<text x="141.4" y="393" text-anchor="middle" font-family="'Liberation Sans', Arial, Helvetica, sans-serif" font-size="8.4" fill="#000" stroke="#000" stroke-width="0.2">40</text>
<text x="160.9" y="393" text-anchor="middle" font-family="'Liberation Sans', Arial, Helvetica, sans-serif" font-size="8.4" fill="#000" stroke="#000" stroke-width="0.2">50</text>
<text x="57.2" y="382.4" text-anchor="end" font-family="'Liberation Sans', Arial, Helvetica, sans-serif" font-size="8.4" fill="#000" stroke="#000" stroke-width="0.2">0</text>
<text x="57.2" y="368.33" text-anchor="end" font-family="'Liberation Sans', Arial, Helvetica, sans-serif" font-size="8.4" fill="#000" stroke="#000" stroke-width="0.2">20</text>
<text x="57.2" y="354.26" text-anchor="end" font-family="'Liberation Sans', Arial, Helvetica, sans-serif" font-size="8.4" fill="#000" stroke="#000" stroke-width="0.2">40</text>
<text x="57.2" y="340.19" text-anchor="end" font-family="'Liberation Sans', Arial, Helvetica, sans-serif" font-size="8.4" fill="#000" stroke="#000" stroke-width="0.2">60</text>
<text x="57.2" y="326.12" text-anchor="end" font-family="'Liberation Sans', Arial, Helvetica, sans-serif" font-size="8.4" fill="#000" stroke="#000" stroke-width="0.2">80</text>
<text x="57.2" y="312.05" text-anchor="end" font-family="'Liberation Sans', Arial, Helvetica, sans-serif" font-size="8.4" fill="#000" stroke="#000" stroke-width="0.2">100</text>
<polyline points="62.9,309.4 82.4,343.17 111.65,358.29 160.4,370.25" fill="none" stroke="#727272" stroke-width="0.6"/>
<circle cx="62.9" cy="309.4" r="3.1" fill="#000"/>
<circle cx="82.4" cy="343.17" r="3.1" fill="#000"/>
<circle cx="111.65" cy="358.29" r="3.1" fill="#000"/>
<circle cx="160.4" cy="370.25" r="3.1" fill="#000"/>
<polyline points="62.9,309.4 82.4,339.65 111.65,344.57 160.4,344.22" fill="none" stroke="#727272" stroke-width="0.6"/>
<polygon points="59.6,306.4 66.2,306.4 62.9,312.4" fill="#fff" stroke="none" stroke-width="0.8"/>
<polygon points="79.1,336.65 85.7,336.65 82.4,342.65" fill="#fff" stroke="#888" stroke-width="0.8"/>
<polygon points="108.35,341.57 114.95,341.57 111.65,347.57" fill="#fff" stroke="#888" stroke-width="0.8"/>
<polygon points="157.1,341.22 163.7,341.22 160.4,347.22" fill="#fff" stroke="#888" stroke-width="0.8"/>
<polyline points="62.9,309.4 82.4,312.92 111.65,321.15 160.4,321.15" fill="none" stroke="#727272" stroke-width="0.6"/>
<rect x="60" y="306.5" width="5.8" height="5.8" fill="#000"/>
<rect x="79.5" y="310.02" width="5.8" height="5.8" fill="#000"/>
<rect x="108.75" y="318.25" width="5.8" height="5.8" fill="#000"/>
<rect x="157.5" y="318.25" width="5.8" height="5.8" fill="#000"/>
<polyline points="62.9,309.4 82.4,344.57 111.65,347.39 160.4,347.39" fill="none" stroke="#727272" stroke-width="0.6"/>
<polygon points="62.9,305.4 66.4,309.4 62.9,313.4 59.4,309.4" fill="#fff" stroke="none" stroke-width="0.8"/>
<polygon points="82.4,340.57 85.9,344.57 82.4,348.57 78.9,344.57" fill="#fff" stroke="#888" stroke-width="0.8"/>
<polygon points="111.65,343.39 115.15,347.39 111.65,351.39 108.15,347.39" fill="#fff" stroke="#888" stroke-width="0.8"/>
<polygon points="160.4,343.39 163.9,347.39 160.4,351.39 156.9,347.39" fill="#fff" stroke="#888" stroke-width="0.8"/>
<polyline points="62.9,309.4 82.4,329.1 111.65,332.97 160.4,338.74" fill="none" stroke="#727272" stroke-width="0.6"/>
<polygon points="59.4,312.4 66.4,312.4 62.9,306.4" fill="#000"/>
<polygon points="78.9,332.1 85.9,332.1 82.4,326.1" fill="#000"/>
<polygon points="108.15,335.97 115.15,335.97 111.65,329.97" fill="#000"/>
<polygon points="156.9,341.74 163.9,341.74 160.4,335.74" fill="#000"/>
<rect x="179.75" y="309.4" width="97.75" height="70.35" fill="none" stroke="#bcbcbc" stroke-width="0.8"/>
<path d="M179.75 309.4V379.75H277.5" fill="none" stroke="#9a9a9a" stroke-width="0.8"/>
<path d="M178.75 379.75h2M179.75 378.75v2M178.75 365.68h2M199.3 378.75v2M178.75 351.61h2M218.85 378.75v2M178.75 337.54h2M238.4 378.75v2M178.75 323.47h2M257.95 378.75v2M178.75 309.4h2M277.5 378.75v2" stroke="#9a9a9a" stroke-width="0.7" fill="none"/>
<text x="180.25" y="393" text-anchor="middle" font-family="'Liberation Sans', Arial, Helvetica, sans-serif" font-size="8.4" fill="#000" stroke="#000" stroke-width="0.2">0</text>
<text x="199.8" y="393" text-anchor="middle" font-family="'Liberation Sans', Arial, Helvetica, sans-serif" font-size="8.4" fill="#000" stroke="#000" stroke-width="0.2">10</text>
<text x="219.35" y="393" text-anchor="middle" font-family="'Liberation Sans', Arial, Helvetica, sans-serif" font-size="8.4" fill="#000" stroke="#000" stroke-width="0.2">20</text>
<text x="238.9" y="393" text-anchor="middle" font-family="'Liberation Sans', Arial, Helvetica, sans-serif" font-size="8.4" fill="#000" stroke="#000" stroke-width="0.2">30</text>
<text x="258.45" y="393" text-anchor="middle" font-family="'Liberation Sans', Arial, Helvetica, sans-serif" font-size="8.4" fill="#000" stroke="#000" stroke-width="0.2">40</text>
<text x="278" y="393" text-anchor="middle" font-family="'Liberation Sans', Arial, Helvetica, sans-serif" font-size="8.4" fill="#000" stroke="#000" stroke-width="0.2">50</text>
<polyline points="179.75,309.4 199.3,369.55 228.62,369.55 277.5,369.9" fill="none" stroke="#727272" stroke-width="0.6"/>
<circle cx="179.75" cy="309.4" r="3.1" fill="#000"/>
<circle cx="199.3" cy="369.55" r="3.1" fill="#000"/>
<circle cx="228.62" cy="369.55" r="3.1" fill="#000"/>
<circle cx="277.5" cy="369.9" r="3.1" fill="#000"/>
<polyline points="179.75,309.4 199.3,329.59 228.62,335.43 277.5,338.24" fill="none" stroke="#727272" stroke-width="0.6"/>
<rect x="176.85" y="306.5" width="5.8" height="5.8" fill="#000"/>
<rect x="196.4" y="326.69" width="5.8" height="5.8" fill="#000"/>
<rect x="225.72" y="332.53" width="5.8" height="5.8" fill="#000"/>
<rect x="274.6" y="335.34" width="5.8" height="5.8" fill="#000"/>
<polyline points="179.75,309.4 199.3,363.92 228.62,364.98 277.5,364.98" fill="none" stroke="#727272" stroke-width="0.6"/>
<polygon points="179.75,305.4 183.25,309.4 179.75,313.4 176.25,309.4" fill="#fff" stroke="#888" stroke-width="0.8"/>
<polygon points="199.3,359.92 202.8,363.92 199.3,367.92 195.8,363.92" fill="#fff" stroke="#888" stroke-width="0.8"/>
<polygon points="228.62,360.98 232.12,364.98 228.62,368.98 225.12,364.98" fill="#fff" stroke="#888" stroke-width="0.8"/>
<polygon points="277.5,360.98 281,364.98 277.5,368.98 274,364.98" fill="#fff" stroke="#888" stroke-width="0.8"/>
<polyline points="179.75,309.4 199.3,369.2 228.62,369.2 277.5,369.55" fill="none" stroke="#727272" stroke-width="0.6"/>
<polygon points="176.25,312.4 183.25,312.4 179.75,306.4" fill="#000"/>
<polygon points="195.8,372.2 202.8,372.2 199.3,366.2" fill="#000"/>
<polygon points="225.12,372.2 232.12,372.2 228.62,366.2" fill="#000"/>
<polygon points="274,372.55 281,372.55 277.5,366.55" fill="#000"/>
<polyline points="179.75,309.4 199.3,357.24 228.62,365.68 277.5,373.42" fill="none" stroke="#727272" stroke-width="0.6"/>
<circle cx="179.75" cy="309.4" r="3.5" fill="#fff" stroke="#888" stroke-width="0.8"/>
<circle cx="199.3" cy="357.24" r="3.5" fill="#fff" stroke="#888" stroke-width="0.8"/>
<circle cx="228.62" cy="365.68" r="3.5" fill="#fff" stroke="#888" stroke-width="0.8"/>
<circle cx="277.5" cy="373.42" r="3.5" fill="#fff" stroke="#888" stroke-width="0.8"/>
<rect x="298.5" y="309.4" width="97.75" height="70.35" fill="none" stroke="#bcbcbc" stroke-width="0.8"/>
<path d="M298.5 309.4V379.75H396.25" fill="none" stroke="#9a9a9a" stroke-width="0.8"/>
<path d="M297.5 379.75h2M298.5 378.75v2M297.5 365.68h2M318.05 378.75v2M297.5 351.61h2M337.6 378.75v2M297.5 337.54h2M357.15 378.75v2M297.5 323.47h2M376.7 378.75v2M297.5 309.4h2M396.25 378.75v2" stroke="#9a9a9a" stroke-width="0.7" fill="none"/>
<text x="299" y="393" text-anchor="middle" font-family="'Liberation Sans', Arial, Helvetica, sans-serif" font-size="8.4" fill="#000" stroke="#000" stroke-width="0.2">0</text>
<text x="318.55" y="393" text-anchor="middle" font-family="'Liberation Sans', Arial, Helvetica, sans-serif" font-size="8.4" fill="#000" stroke="#000" stroke-width="0.2">10</text>
<text x="338.1" y="393" text-anchor="middle" font-family="'Liberation Sans', Arial, Helvetica, sans-serif" font-size="8.4" fill="#000" stroke="#000" stroke-width="0.2">20</text>
<text x="357.65" y="393" text-anchor="middle" font-family="'Liberation Sans', Arial, Helvetica, sans-serif" font-size="8.4" fill="#000" stroke="#000" stroke-width="0.2">30</text>
<text x="377.2" y="393" text-anchor="middle" font-family="'Liberation Sans', Arial, Helvetica, sans-serif" font-size="8.4" fill="#000" stroke="#000" stroke-width="0.2">40</text>
<text x="396.75" y="393" text-anchor="middle" font-family="'Liberation Sans', Arial, Helvetica, sans-serif" font-size="8.4" fill="#000" stroke="#000" stroke-width="0.2">50</text>
<polyline points="298.5,309.4 318.05,364.27 347.38,368.49 396.25,371.31" fill="none" stroke="#727272" stroke-width="0.6"/>
<circle cx="298.5" cy="309.4" r="3.1" fill="#000"/>
<circle cx="318.05" cy="364.27" r="3.1" fill="#000"/>
<circle cx="347.38" cy="368.49" r="3.1" fill="#000"/>
<circle cx="396.25" cy="371.31" r="3.1" fill="#000"/>
<polyline points="298.5,309.4 318.05,376.23 347.38,376.23 396.25,376.23" fill="none" stroke="#727272" stroke-width="0.6"/>
<polygon points="298.5,305.4 302,309.4 298.5,313.4 295,309.4" fill="#fff" stroke="none" stroke-width="0.8"/>
<polygon points="318.05,372.23 321.55,376.23 318.05,380.23 314.55,376.23" fill="#fff" stroke="#888" stroke-width="0.8"/>
<polygon points="347.38,372.23 350.88,376.23 347.38,380.23 343.88,376.23" fill="#fff" stroke="#888" stroke-width="0.8"/>
<polygon points="396.25,372.23 399.75,376.23 396.25,380.23 392.75,376.23" fill="#fff" stroke="#888" stroke-width="0.8"/>
<polyline points="298.5,309.4 318.05,376.23 347.38,376.23 396.25,376.58" fill="none" stroke="#727272" stroke-width="0.6"/>
<circle cx="298.5" cy="309.4" r="3.5" fill="#fff" stroke="none" stroke-width="0.8"/>
<circle cx="318.05" cy="376.23" r="3.5" fill="#fff" stroke="#888" stroke-width="0.8"/>
<circle cx="347.38" cy="376.23" r="3.5" fill="#fff" stroke="#888" stroke-width="0.8"/>
<circle cx="396.25" cy="376.58" r="3.5" fill="#fff" stroke="#888" stroke-width="0.8"/>
<polyline points="298.5,309.4 318.05,363.92 347.38,364.98 396.25,368.14" fill="none" stroke="#727272" stroke-width="0.6"/>
<rect x="295.6" y="306.5" width="5.8" height="5.8" fill="#000"/>
<rect x="315.15" y="361.02" width="5.8" height="5.8" fill="#000"/>
<rect x="344.48" y="362.08" width="5.8" height="5.8" fill="#000"/>
<rect x="393.35" y="365.24" width="5.8" height="5.8" fill="#000"/>
<polygon points="298.5,305.4 302,309.4 298.5,313.4 295,309.4" fill="#fff" stroke="none" stroke-width="0.8"/>
<polyline points="298.5,309.4 318.05,364.98 347.38,368.49 396.25,372.01" fill="none" stroke="#727272" stroke-width="0.6"/>
<polygon points="295,312.4 302,312.4 298.5,306.4" fill="#000"/>
<polygon points="314.55,367.98 321.55,367.98 318.05,361.98" fill="#000"/>
<polygon points="343.88,371.49 350.88,371.49 347.38,365.49" fill="#000"/>
<polygon points="392.75,375.01 399.75,375.01 396.25,369.01" fill="#000"/>
<rect x="415.6" y="309.4" width="97.5" height="70.35" fill="none" stroke="#bcbcbc" stroke-width="0.8"/>
<path d="M415.6 309.4V379.75H513.1" fill="none" stroke="#9a9a9a" stroke-width="0.8"/>
<path d="M414.6 379.75h2M415.6 378.75v2M414.6 365.68h2M435.1 378.75v2M414.6 351.61h2M454.6 378.75v2M414.6 337.54h2M474.1 378.75v2M414.6 323.47h2M493.6 378.75v2M414.6 309.4h2M513.1 378.75v2" stroke="#9a9a9a" stroke-width="0.7" fill="none"/>
<text x="416.1" y="393" text-anchor="middle" font-family="'Liberation Sans', Arial, Helvetica, sans-serif" font-size="8.4" fill="#000" stroke="#000" stroke-width="0.2">0</text>
<text x="435.6" y="393" text-anchor="middle" font-family="'Liberation Sans', Arial, Helvetica, sans-serif" font-size="8.4" fill="#000" stroke="#000" stroke-width="0.2">10</text>
<text x="455.1" y="393" text-anchor="middle" font-family="'Liberation Sans', Arial, Helvetica, sans-serif" font-size="8.4" fill="#000" stroke="#000" stroke-width="0.2">20</text>
<text x="474.6" y="393" text-anchor="middle" font-family="'Liberation Sans', Arial, Helvetica, sans-serif" font-size="8.4" fill="#000" stroke="#000" stroke-width="0.2">30</text>
<text x="494.1" y="393" text-anchor="middle" font-family="'Liberation Sans', Arial, Helvetica, sans-serif" font-size="8.4" fill="#000" stroke="#000" stroke-width="0.2">40</text>
<text x="513.6" y="393" text-anchor="middle" font-family="'Liberation Sans', Arial, Helvetica, sans-serif" font-size="8.4" fill="#000" stroke="#000" stroke-width="0.2">50</text>
<polyline points="415.6,309.4 435.1,369.9 464.35,373.21 513.1,374.97" fill="none" stroke="#727272" stroke-width="0.6"/>
<circle cx="415.6" cy="309.4" r="3.1" fill="#000"/>
<circle cx="435.1" cy="369.9" r="3.1" fill="#000"/>
<circle cx="464.35" cy="373.21" r="3.1" fill="#000"/>
<circle cx="513.1" cy="374.97" r="3.1" fill="#000"/>
<polyline points="415.6,309.4 435.1,377.64 464.35,377.64 513.1,377.99" fill="none" stroke="#727272" stroke-width="0.6"/>
<polygon points="415.6,305.4 419.1,309.4 415.6,313.4 412.1,309.4" fill="#fff" stroke="none" stroke-width="0.8"/>
<polygon points="435.1,373.64 438.6,377.64 435.1,381.64 431.6,377.64" fill="#fff" stroke="#888" stroke-width="0.8"/>
<polygon points="464.35,373.64 467.85,377.64 464.35,381.64 460.85,377.64" fill="#fff" stroke="#888" stroke-width="0.8"/>
<polygon points="513.1,373.99 516.6,377.99 513.1,381.99 509.6,377.99" fill="#fff" stroke="#888" stroke-width="0.8"/>
<polyline points="415.6,309.4 435.1,377.85 464.35,377.85 513.1,378.34" fill="none" stroke="#727272" stroke-width="0.6"/>
<circle cx="415.6" cy="309.4" r="3.5" fill="#fff" stroke="none" stroke-width="0.8"/>
<circle cx="435.1" cy="377.85" r="3.5" fill="#fff" stroke="#888" stroke-width="0.8"/>
<circle cx="464.35" cy="377.85" r="3.5" fill="#fff" stroke="#888" stroke-width="0.8"/>
<circle cx="513.1" cy="378.34" r="3.5" fill="#fff" stroke="#888" stroke-width="0.8"/>
<polyline points="415.6,309.4 435.1,369.2 464.35,368.35 513.1,370.89" fill="none" stroke="#727272" stroke-width="0.6"/>
<rect x="412.7" y="306.5" width="5.8" height="5.8" fill="#000"/>
<rect x="432.2" y="366.3" width="5.8" height="5.8" fill="#000"/>
<rect x="461.45" y="365.45" width="5.8" height="5.8" fill="#000"/>
<rect x="510.2" y="367.99" width="5.8" height="5.8" fill="#000"/>
<polygon points="415.6,305.4 419.1,309.4 415.6,313.4 412.1,309.4" fill="#fff" stroke="none" stroke-width="0.8"/>
<polyline points="415.6,309.4 435.1,370.96 464.35,373.28 513.1,374.97" fill="none" stroke="#727272" stroke-width="0.6"/>
<polygon points="412.1,312.4 419.1,312.4 415.6,306.4" fill="#000"/>
<polygon points="431.6,373.96 438.6,373.96 435.1,367.96" fill="#000"/>
<polygon points="460.85,376.28 467.85,376.28 464.35,370.28" fill="#000"/>
<polygon points="509.6,377.97 516.6,377.97 513.1,371.97" fill="#000"/>
</svg>
</body>
</html>
